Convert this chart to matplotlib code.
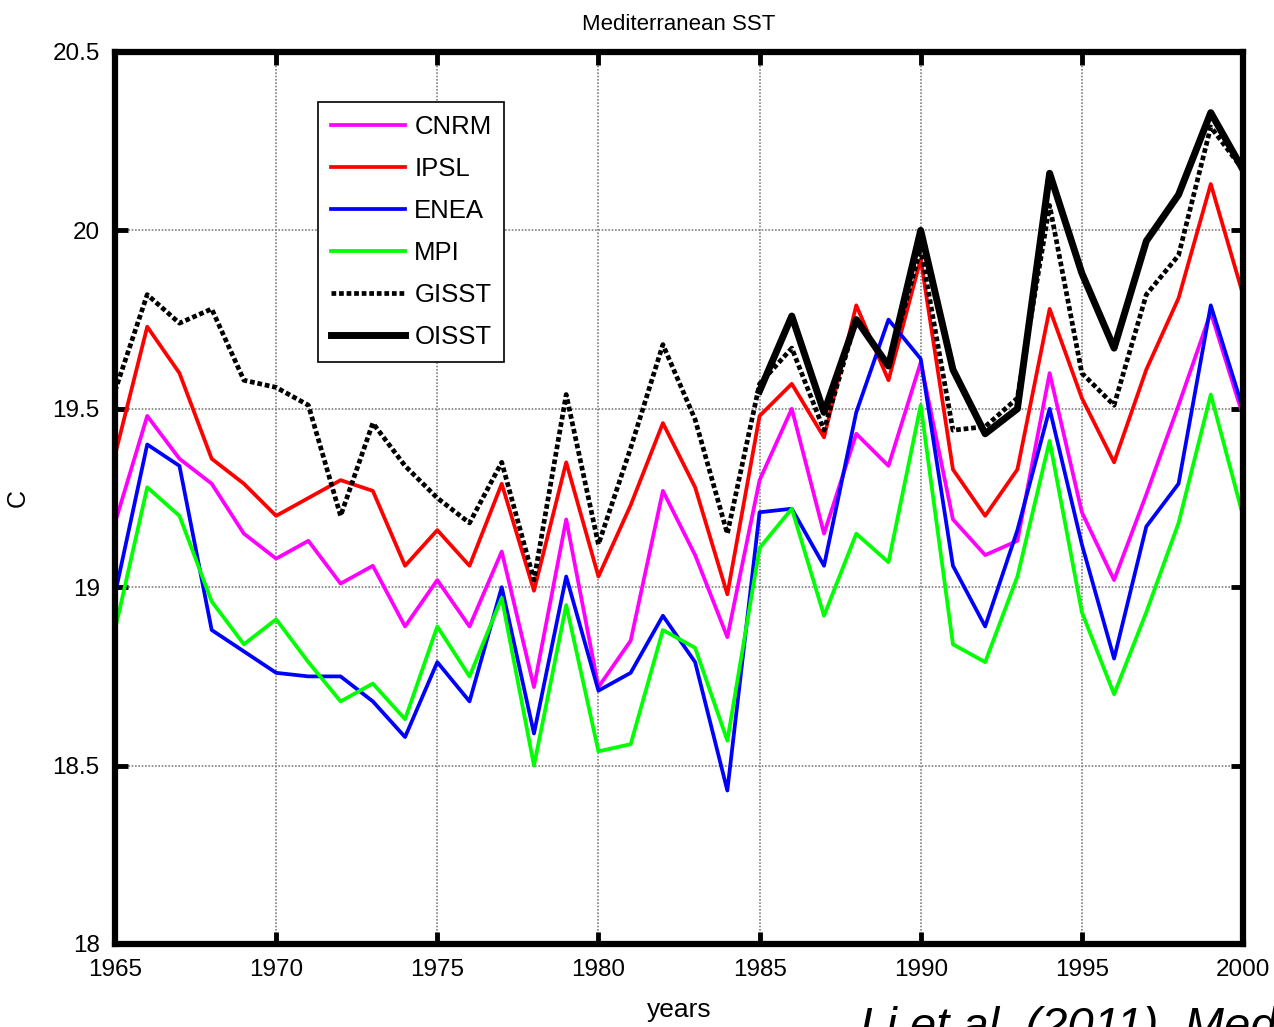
import numpy as np
import matplotlib
matplotlib.use("Agg")
import matplotlib.pyplot as plt

years = list(range(1965, 2001))

cnrm = [19.18, 19.48, 19.36, 19.29, 19.15, 19.08, 19.13, 19.01, 19.06, 18.89,
        19.02, 18.89, 19.10, 18.72, 19.19, 18.72, 18.85, 19.27, 19.09, 18.86,
        19.30, 19.50, 19.15, 19.43, 19.34, 19.63, 19.19, 19.09, 19.13, 19.60,
        19.21, 19.02, 19.26, 19.51, 19.77, 19.48]
ipsl = [19.37, 19.73, 19.60, 19.36, 19.29, 19.20, 19.25, 19.30, 19.27, 19.06,
        19.16, 19.06, 19.29, 18.99, 19.35, 19.03, 19.23, 19.46, 19.28, 18.98,
        19.48, 19.57, 19.42, 19.79, 19.58, 19.92, 19.33, 19.20, 19.33, 19.78,
        19.53, 19.35, 19.61, 19.81, 20.13, 19.82]
enea = [18.98, 19.40, 19.34, 18.88, 18.82, 18.76, 18.75, 18.75, 18.68, 18.58,
        18.79, 18.68, 19.00, 18.59, 19.03, 18.71, 18.76, 18.92, 18.79, 18.43,
        19.21, 19.22, 19.06, 19.49, 19.75, 19.64, 19.06, 18.89, 19.16, 19.50,
        19.12, 18.80, 19.17, 19.29, 19.79, 19.50]
mpi = [18.88, 19.28, 19.20, 18.96, 18.84, 18.91, 18.79, 18.68, 18.73, 18.63,
       18.89, 18.75, 18.97, 18.50, 18.95, 18.54, 18.56, 18.88, 18.83, 18.57,
       19.11, 19.22, 18.92, 19.15, 19.07, 19.51, 18.84, 18.79, 19.03, 19.41,
       18.93, 18.70, 18.93, 19.18, 19.54, 19.20]
gisst = [19.55, 19.82, 19.74, 19.78, 19.58, 19.56, 19.51, 19.20, 19.46, 19.34,
         19.25, 19.18, 19.35, 19.02, 19.54, 19.12, 19.39, 19.68, 19.47, 19.15,
         19.57, 19.67, 19.44, 19.75, 19.62, 19.95, 19.44, 19.45, 19.53, 20.07,
         19.60, 19.51, 19.82, 19.93, 20.29, 20.17]
oisst_years = list(range(1985, 2001))
oisst = [19.55, 19.76, 19.49, 19.75, 19.62, 20.00, 19.61, 19.43, 19.50, 20.16,
         19.88, 19.67, 19.97, 20.10, 20.33, 20.17]

plt.rcParams['font.family'] = ['Liberation Sans', 'DejaVu Sans']

fig = plt.figure(figsize=(12.74, 10.27), dpi=100)
ax = fig.add_axes([115/1274, 1 - 944/1027, 1128/1274, 892/1027])

ax.plot(years, cnrm, color='#ff00ff', lw=2.7, label='CNRM')
ax.plot(years, ipsl, color='#ff0000', lw=2.7, label='IPSL')
ax.plot(years, enea, color='#0000ff', lw=2.7, label='ENEA')
ax.plot(years, mpi, color='#00ff00', lw=2.7, label='MPI')
ax.plot(years, gisst, color='black', lw=3.4, ls=(0, (1.0, 0.6)), label='GISST')
ax.plot(oisst_years, oisst, color='black', lw=5.0, label='OISST')

ax.set_xlim(1965, 2000)
ax.set_ylim(18, 20.5)
ax.set_xticks(range(1965, 2001, 5))
ax.set_yticks([18, 18.5, 19, 19.5, 20, 20.5])
ax.set_yticklabels(['18', '18.5', '19', '19.5', '20', '20.5'])
ax.grid(True, color='#808080', ls=(0, (1, 1)), lw=1.2)
ax.tick_params(direction='in', length=9, width=3.5, labelsize=17.5,
               top=True, right=True, pad=11)
for s in ax.spines.values():
    s.set_linewidth(4.5)

ax.set_title('Mediterranean SST', fontsize=16, pad=16)
ax.set_ylabel('C', fontsize=18, labelpad=16)
ax.set_xlabel('years', fontsize=19, labelpad=12)

leg = ax.legend(loc='upper left', bbox_to_anchor=((318-115)/1128, (944-102)/892),
                borderaxespad=0, fontsize=18.5, handlelength=2.9, labelspacing=0.7,
                handletextpad=0.35, borderpad=0.5, fancybox=False, framealpha=1)
leg.get_frame().set_edgecolor('black')
leg.get_frame().set_linewidth(1.2)

fig.text(860/1274, 1 - 1040/1027, 'Li et al. (2011), Mediterranean Sea',
         fontsize=34, style='italic', ha='left', va='baseline')

fig.savefig('out.png', dpi=100)
